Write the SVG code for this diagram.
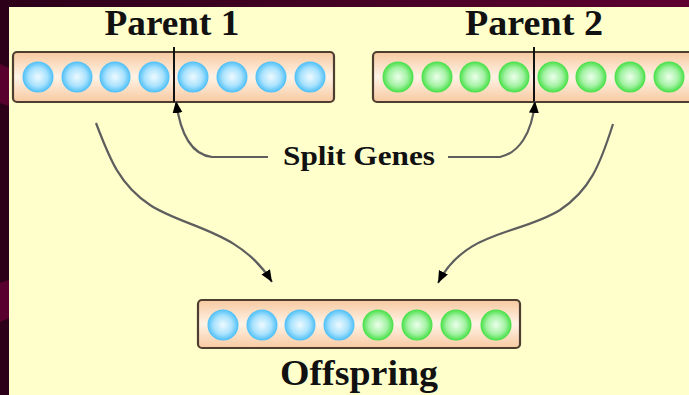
<svg xmlns="http://www.w3.org/2000/svg" width="689" height="395" viewBox="0 0 689 395">
  <defs>
    <linearGradient id="band" x1="0" y1="0" x2="1" y2="0">
      <stop offset="0" stop-color="#2c0018"/>
      <stop offset="1" stop-color="#5e0030"/>
    </linearGradient>
    <linearGradient id="tube" x1="0" y1="0" x2="0" y2="1">
      <stop offset="0" stop-color="#f7c9a0"/>
      <stop offset="0.5" stop-color="#fff3e6"/>
      <stop offset="1" stop-color="#f7c9a0"/>
    </linearGradient>
    <radialGradient id="blue" cx="0.5" cy="0.5" r="0.5">
      <stop offset="0" stop-color="#eefaff"/>
      <stop offset="0.6" stop-color="#a9e2fd"/>
      <stop offset="1" stop-color="#4cbff7"/>
    </radialGradient>
    <radialGradient id="green" cx="0.5" cy="0.5" r="0.5">
      <stop offset="0" stop-color="#ecffec"/>
      <stop offset="0.6" stop-color="#a4f2a4"/>
      <stop offset="1" stop-color="#44e044"/>
    </radialGradient>
    <marker id="head" markerUnits="userSpaceOnUse" markerWidth="14" markerHeight="12" refX="12" refY="5" orient="auto">
      <path d="M0,0 L12,5 L0,10 z" fill="#000"/>
    </marker>
    <style>
      .tube { fill: url(#tube); stroke: #4e3e30; stroke-width: 2.2; }
      .b { fill: url(#blue); }
      .g { fill: url(#green); }
      .title { font-family: "Liberation Serif", "Times New Roman", serif; font-weight: bold; fill: #111; text-anchor: middle; }
      .wire { fill: none; stroke: #5e5e5e; stroke-width: 2.2; }
      .cut { stroke: #111; stroke-width: 2; }
    </style>
  </defs>

  <!-- backdrop -->
  <rect x="0" y="0" width="689" height="395" fill="#2c0018"/>
  <rect x="0" y="0" width="689" height="7" fill="url(#band)"/>
  <polygon points="0,64 9,68 9,106 0,103" fill="#5a002e"/>
  <polygon points="0,283 9,280 9,318 0,322" fill="#5a002e"/>
  <rect x="9" y="7" width="680" height="388" fill="#ffffcc"/>

  <!-- first parent -->
  <g id="parent1">
    <text class="title" x="172" y="35" font-size="36" textLength="135" lengthAdjust="spacingAndGlyphs">Parent 1</text>
    <rect class="tube" x="13" y="52" width="321" height="50" rx="4"/>
    <circle class="b" cx="38" cy="77" r="15.5"/>
    <circle class="b" cx="77" cy="77" r="15.5"/>
    <circle class="b" cx="115" cy="77" r="15.5"/>
    <circle class="b" cx="154" cy="77" r="15.5"/>
    <circle class="b" cx="193" cy="77" r="15.5"/>
    <circle class="b" cx="232" cy="77" r="15.5"/>
    <circle class="b" cx="271" cy="77" r="15.5"/>
    <circle class="b" cx="310" cy="77" r="15.5"/>
    <line class="cut" x1="174" y1="47" x2="174" y2="102"/>
  </g>

  <!-- second parent -->
  <g id="parent2">
    <text class="title" x="534" y="35" font-size="36" textLength="138" lengthAdjust="spacingAndGlyphs">Parent 2</text>
    <rect class="tube" x="373" y="52" width="330" height="50" rx="4"/>
    <circle class="g" cx="398" cy="77" r="15.5"/>
    <circle class="g" cx="437" cy="77" r="15.5"/>
    <circle class="g" cx="475" cy="77" r="15.5"/>
    <circle class="g" cx="514" cy="77" r="15.5"/>
    <circle class="g" cx="553" cy="77" r="15.5"/>
    <circle class="g" cx="591" cy="77" r="15.5"/>
    <circle class="g" cx="630" cy="77" r="15.5"/>
    <circle class="g" cx="669" cy="77" r="15.5"/>
    <line class="cut" x1="534" y1="47" x2="534" y2="102"/>
  </g>

  <!-- split label -->
  <g id="split">
    <text class="title" x="359" y="165" font-size="28" textLength="152" lengthAdjust="spacingAndGlyphs">Split Genes</text>
  </g>

  <!-- child -->
  <g id="offspring">
    <rect class="tube" x="198" y="300" width="322" height="48" rx="4"/>
    <circle class="b" cx="223" cy="325" r="15.5"/>
    <circle class="b" cx="262" cy="325" r="15.5"/>
    <circle class="b" cx="300" cy="325" r="15.5"/>
    <circle class="b" cx="339" cy="325" r="15.5"/>
    <circle class="g" cx="378" cy="325" r="15.5"/>
    <circle class="g" cx="417" cy="325" r="15.5"/>
    <circle class="g" cx="456" cy="325" r="15.5"/>
    <circle class="g" cx="496" cy="325" r="15.5"/>
    <text class="title" x="359" y="385" font-size="36" textLength="158" lengthAdjust="spacingAndGlyphs">Offspring</text>
  </g>

  <!-- connectors -->
  <g id="connectors">
    <path class="wire" d="M268,157 L212,157 C195,155 181,140 176,101" marker-end="url(#head)"/>
    <path class="wire" d="M448,157 L500,157 C518,153 532,135 535,101" marker-end="url(#head)"/>
    <path class="wire" d="M96,123 C110,160 120,185 150,205 C185,228 240,230 272,282" marker-end="url(#head)"/>
    <path class="wire" d="M613,124 C600,165 590,190 560,210 C520,235 465,230 438,283" marker-end="url(#head)"/>
  </g>
</svg>
